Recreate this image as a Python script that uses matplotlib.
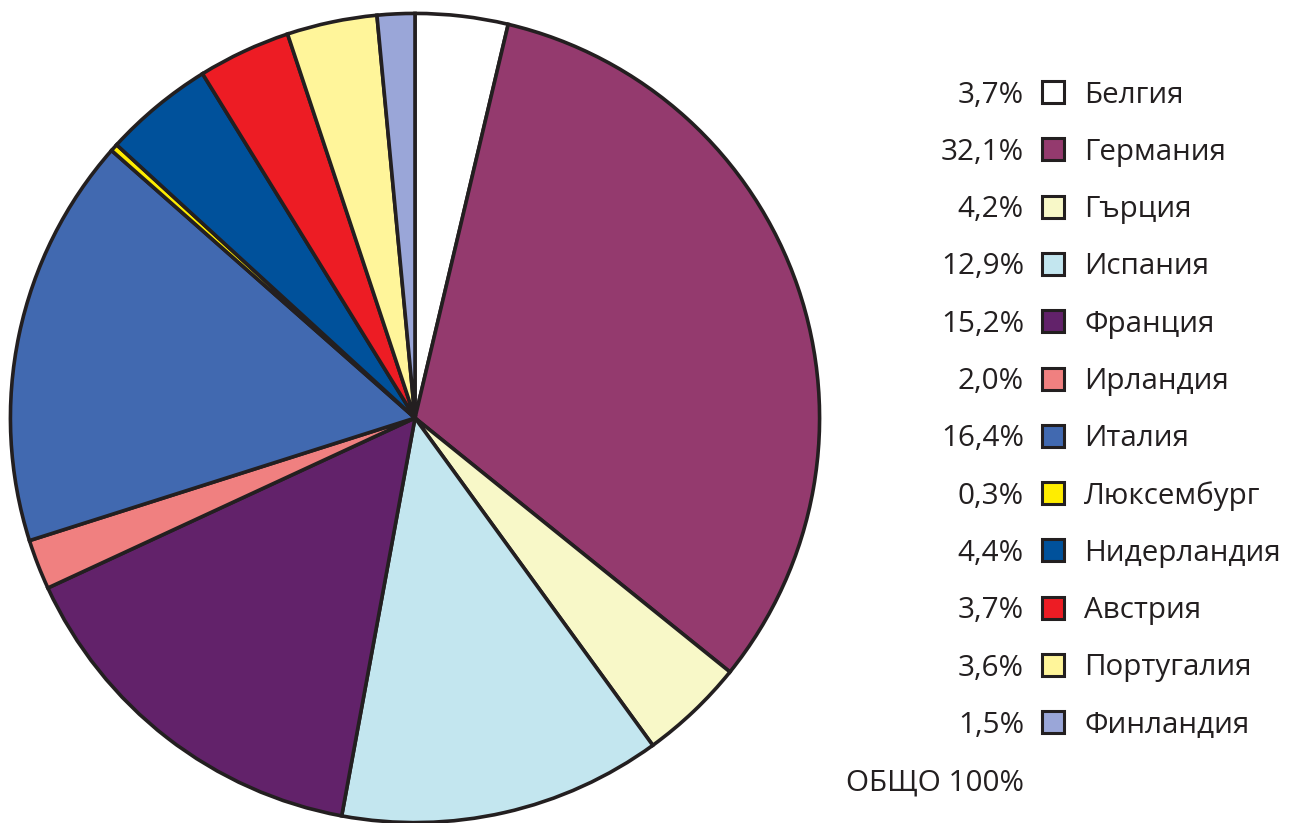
import matplotlib.pyplot as plt
from matplotlib.patches import Rectangle

# Data: share by country (%)
countries = ['Белгия', 'Германия', 'Гърция', 'Испания', 'Франция', 'Ирландия',
             'Италия', 'Люксембург', 'Нидерландия', 'Австрия', 'Португалия',
             'Финландия']
shares = [3.7, 32.1, 4.2, 12.9, 15.2, 2.0, 16.4, 0.3, 4.4, 3.7, 3.6, 1.5]
share_labels = ['3,7%', '32,1%', '4,2%', '12,9%', '15,2%', '2,0%', '16,4%',
                '0,3%', '4,4%', '3,7%', '3,6%', '1,5%']
total_label = 'ОБЩО 100%'

colors = ['#FFFFFF', '#943A6E', '#F8F8C8', '#C3E6EF', '#62226A', '#F08080',
          '#4169B0', '#FFED00', '#00519B', '#ED1C24', '#FFF59A', '#9AA6D8']
edge = '#231F20'

W, H = 1291, 823
fig = plt.figure(figsize=(W / 100, H / 100), dpi=100)
plt.rcParams['font.family'] = ['Open Sans', 'DejaVu Sans']

# pie axes, square in pixels
ax = fig.add_axes([8 / W, -2 / H, 814 / W, 814 / H])
ax.pie(shares, colors=colors, startangle=90, counterclock=False,
       wedgeprops=dict(edgecolor=edge, linewidth=2.6, joinstyle='miter'))
ax.set_xlim(-1.006, 1.006)
ax.set_ylim(-1.006, 1.006)
ax.set_aspect('equal')
ax.axis('off')

# legend drawn in figure pixel coordinates
lg = fig.add_axes([0, 0, 1, 1])
lg.set_xlim(0, W)
lg.set_ylim(H, 0)
lg.axis('off')

y0, dy = 95, 57.3
fs = 21.3
for i, (name, lab, c) in enumerate(zip(countries, share_labels, colors)):
    y = y0 + i * dy
    lg.text(1024, y, lab, ha='right', va='center', fontsize=fs, color=edge)
    lg.add_patch(Rectangle((1042, y - 14), 22, 22, facecolor=c,
                           edgecolor=edge, linewidth=2.2))
    lg.text(1084, y, name, ha='left', va='center', fontsize=fs, color=edge)
lg.text(1024, y0 + len(countries) * dy, total_label, ha='right', va='center',
        fontsize=fs, color=edge)

fig.savefig('out.png', dpi=100)
